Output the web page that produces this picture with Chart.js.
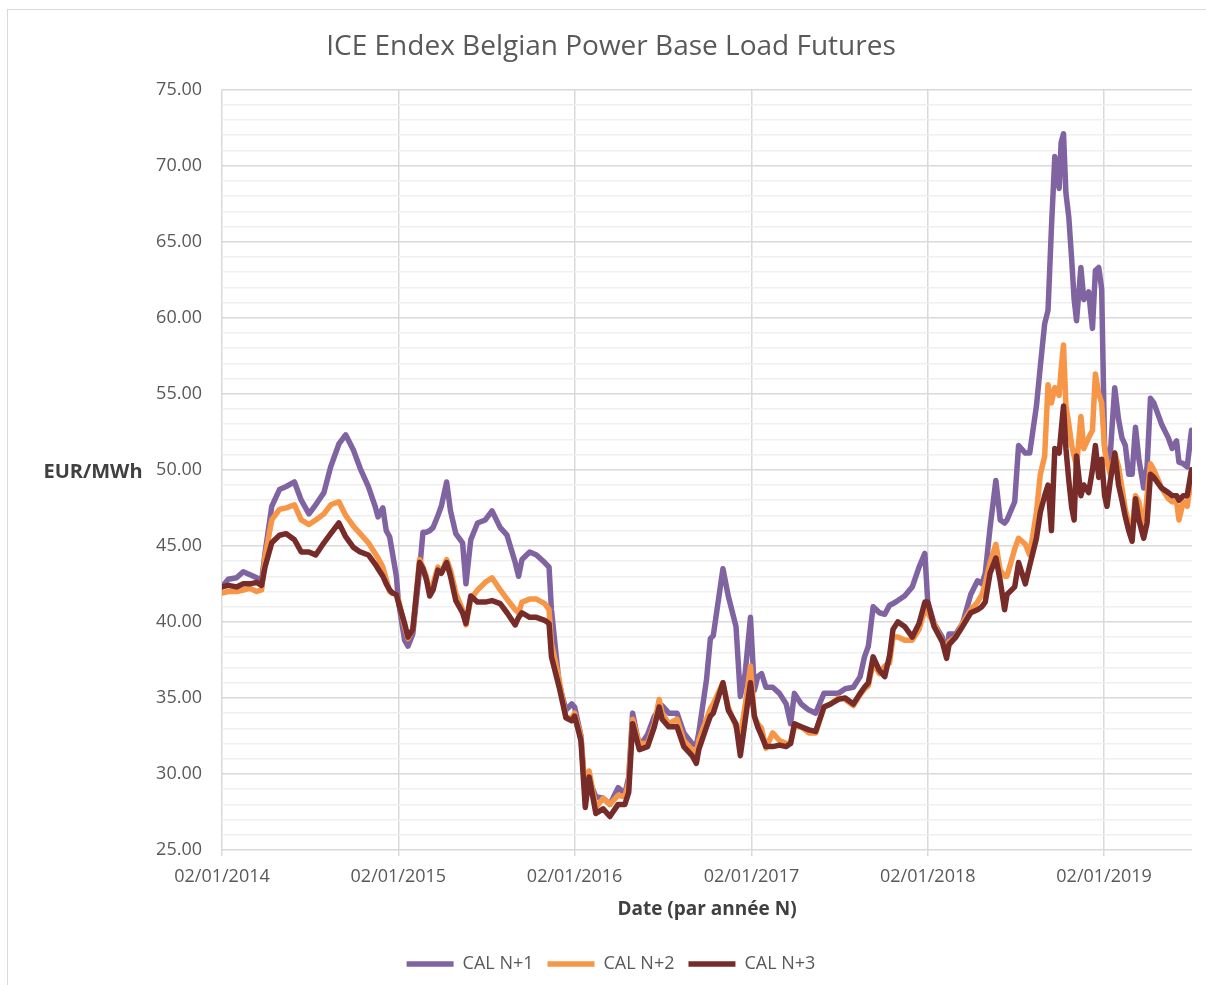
<!DOCTYPE html>
<html>
<head>
<meta charset="utf-8">
<script src="https://cdn.jsdelivr.net/npm/chart.js@4.4.1/dist/chart.umd.min.js"></script>
<style>
  html, body { margin: 0; padding: 0; background: #ffffff; }
  #wrap { width: 1206px; height: 985px; position: relative; }
</style>
</head>
<body>
<div id="wrap"><canvas id="c" width="1206" height="985"></canvas></div>
<script>
const chartTitle = 'ICE Endex Belgian Power Base Load Futures';
const yAxisTitle = 'EUR/MWh';
const xAxisTitle = 'Date (par année N)';
const seriesNames = ['CAL N+1', 'CAL N+2', 'CAL N+3'];

const dates = [
  '2014-01-02','2014-01-15','2014-02-01','2014-02-15','2014-03-01','2014-03-15','2014-03-25','2014-04-01','2014-04-15','2014-05-01',
  '2014-05-15','2014-06-01','2014-06-15','2014-07-01','2014-07-15','2014-08-01','2014-08-15','2014-09-01','2014-09-15','2014-10-01',
  '2014-10-15','2014-11-01','2014-11-15','2014-11-21','2014-12-01','2014-12-08','2014-12-15','2014-12-21','2014-12-29',
  '2015-01-02','2015-01-15','2015-01-22','2015-02-01','2015-02-15','2015-02-22','2015-03-01','2015-03-08','2015-03-15','2015-03-25',
  '2015-04-01','2015-04-12','2015-04-20','2015-05-01','2015-05-15','2015-05-22','2015-06-01','2015-06-15','2015-07-01','2015-07-15',
  '2015-08-01','2015-08-15','2015-09-01','2015-09-08','2015-09-15','2015-10-01','2015-10-15','2015-11-01','2015-11-10','2015-11-15',
  '2015-12-01','2015-12-15','2015-12-27',
  '2016-01-02','2016-01-15','2016-01-24','2016-02-01','2016-02-15','2016-03-01','2016-03-15','2016-04-01','2016-04-15','2016-04-23',
  '2016-05-01','2016-05-15','2016-06-01','2016-06-15','2016-06-25','2016-07-01','2016-07-15','2016-08-01','2016-08-15','2016-09-01',
  '2016-09-10','2016-09-15','2016-10-01','2016-10-09','2016-10-15','2016-11-04','2016-11-15','2016-12-01','2016-12-10','2016-12-20',
  '2016-12-31',
  '2017-01-08','2017-01-15','2017-01-23','2017-02-01','2017-02-15','2017-03-01','2017-03-15','2017-03-24','2017-04-01','2017-04-15',
  '2017-05-01','2017-05-15','2017-06-01','2017-06-15','2017-07-01','2017-07-15','2017-08-01','2017-08-15','2017-08-24','2017-09-01',
  '2017-09-11','2017-09-24','2017-10-05','2017-10-15','2017-10-22','2017-11-01','2017-11-15','2017-12-01','2017-12-15','2017-12-27',
  '2018-01-02','2018-01-15','2018-02-01','2018-02-10','2018-02-15','2018-03-01','2018-03-15','2018-04-01','2018-04-15','2018-04-24',
  '2018-05-01','2018-05-11','2018-05-23','2018-06-01','2018-06-10','2018-06-15','2018-07-01','2018-07-09','2018-07-23','2018-08-01',
  '2018-08-15','2018-08-23','2018-09-01','2018-09-08','2018-09-15','2018-09-22','2018-10-01','2018-10-05','2018-10-10','2018-10-15',
  '2018-10-21','2018-10-27','2018-11-01','2018-11-06','2018-11-15','2018-11-21','2018-12-01','2018-12-09','2018-12-15','2018-12-22',
  '2018-12-28',
  '2019-01-03','2019-01-08','2019-01-15','2019-01-24','2019-02-01','2019-02-08','2019-02-15','2019-02-22','2019-03-01','2019-03-08',
  '2019-03-15','2019-03-25','2019-04-01','2019-04-08','2019-04-15','2019-05-01','2019-05-15','2019-05-23','2019-06-01','2019-06-06',
  '2019-06-15','2019-06-23','2019-07-02'
];

const calN1 = [
  42.3,42.8,42.9,43.3,43.1,42.9,42.7,44.5,47.6,48.7,
  48.9,49.2,48.0,47.1,47.7,48.5,50.2,51.7,52.3,51.3,
  50.1,48.9,47.6,46.9,47.5,46.0,45.6,44.5,43.0,
  41.4,38.8,38.4,39.2,43.4,45.9,45.9,46.0,46.2,47.0,
  47.6,49.2,47.3,45.8,45.2,42.5,45.4,46.5,46.7,47.3,
  46.2,45.7,43.9,43.0,44.1,44.6,44.4,43.9,43.6,40.8,
  35.9,34.2,34.6,
  34.4,32.5,28.5,29.6,28.5,28.4,28.0,29.1,28.7,29.8,
  34.0,31.8,32.6,33.8,34.2,34.5,34.0,34.0,32.7,32.0,
  31.9,32.7,36.2,38.9,39.1,43.5,41.7,39.7,35.1,36.6,
  40.3,
  35.5,36.4,36.6,35.7,35.7,35.3,34.6,33.3,35.3,34.6,
  34.2,34.0,35.3,35.3,35.3,35.6,35.7,36.4,37.7,38.4,
  41.0,40.6,40.5,41.1,41.2,41.4,41.7,42.3,43.6,44.5,
  41.3,39.9,39.0,37.8,39.2,39.2,39.9,41.8,42.7,42.5,
  43.2,46.2,49.3,46.7,46.5,46.7,47.9,51.6,51.1,51.1,
  54.2,56.8,59.6,60.5,65.9,70.6,68.5,71.5,72.1,68.2,
  66.6,63.8,61.2,59.8,63.3,61.2,61.7,59.3,63.1,63.3,
  61.9,
  51.6,50.5,51.1,55.4,53.3,52.1,51.6,49.7,49.7,52.8,
  50.7,48.8,50.2,54.7,54.4,53.0,52.1,51.4,51.9,50.5,
  50.4,50.2,52.6
];

const calN2 = [
  41.9,42.0,42.0,42.1,42.2,42.0,42.1,44.3,46.7,47.4,
  47.5,47.7,46.7,46.4,46.7,47.1,47.7,47.9,47.0,46.3,
  45.8,45.2,44.5,44.2,43.6,42.8,42.0,41.9,41.8,
  41.5,39.7,38.9,39.5,44.1,43.6,43.0,41.9,42.5,43.6,
  43.2,44.1,43.4,41.9,40.8,39.8,41.5,42.1,42.6,42.9,
  42.1,41.5,40.8,40.6,41.3,41.5,41.5,41.2,40.8,38.6,
  36.2,33.7,33.7,
  34.0,32.5,28.9,30.2,27.8,28.4,28.0,28.6,28.5,29.5,
  33.6,32.0,32.0,33.3,34.9,34.0,33.3,33.6,32.2,31.6,
  31.4,32.2,33.6,34.3,34.6,36.0,34.4,33.1,32.5,34.5,
  37.1,
  33.8,33.3,33.0,31.7,32.7,32.2,32.0,32.0,33.1,33.1,
  32.7,32.7,34.4,34.6,35.0,34.9,34.5,35.2,35.6,35.8,
  37.3,36.6,37.1,37.3,39.0,39.0,38.8,38.8,39.5,40.8,
  40.6,39.9,38.7,38.0,38.7,39.0,39.9,40.8,41.3,41.8,
  42.5,43.9,45.1,43.4,43.0,43.0,44.8,45.5,45.1,44.4,
  47.2,49.7,50.9,55.6,54.4,55.4,54.9,56.6,58.2,54.2,
  53.0,51.6,50.9,50.2,53.5,51.4,52.1,52.6,56.3,55.0,
  54.4,
  51.4,50.5,49.7,51.1,50.2,48.8,47.4,46.5,46.0,48.3,
  47.9,46.0,48.3,50.4,50.0,48.8,48.1,47.9,47.9,46.7,
  47.9,47.6,49.5
];

const calN3 = [
  42.3,42.4,42.3,42.5,42.5,42.6,42.4,43.6,45.2,45.7,
  45.8,45.4,44.6,44.6,44.4,45.2,45.8,46.5,45.6,44.9,
  44.6,44.4,43.8,43.5,43.0,42.5,42.1,41.9,41.8,
  41.3,39.9,39.0,39.5,43.9,43.5,42.8,41.7,42.1,43.4,
  43.2,43.9,43.0,41.4,40.6,39.9,41.7,41.3,41.3,41.4,
  41.2,40.6,39.8,40.3,40.6,40.3,40.3,40.1,39.9,37.7,
  35.7,33.7,33.5,
  33.8,32.2,27.8,29.8,27.4,27.7,27.2,28.0,28.0,28.8,
  33.3,31.6,31.8,33.1,34.4,33.6,33.1,33.1,31.8,31.2,
  30.7,31.6,33.1,33.8,34.0,36.0,34.2,33.3,31.2,33.5,
  36.0,
  33.8,33.1,32.5,31.8,31.8,31.9,31.8,32.0,33.3,33.1,
  32.9,32.8,34.4,34.6,34.9,35.0,34.6,35.3,35.7,36.0,
  37.7,36.8,36.4,37.8,39.5,40.0,39.7,39.0,39.9,41.3,
  41.3,39.7,38.7,37.6,38.5,39.0,39.7,40.6,40.8,41.0,
  41.3,43.2,44.2,42.7,40.8,41.8,42.3,43.9,42.5,43.7,
  45.5,47.2,48.3,49.0,46.0,51.4,51.1,52.5,54.2,51.4,
  49.3,47.5,46.7,50.9,48.3,49.0,48.5,50.0,51.6,49.5,
  50.7,
  48.3,47.6,49.3,51.1,49.0,48.0,46.9,46.0,45.3,48.1,
  46.7,45.5,46.5,49.7,49.5,48.8,48.5,48.3,48.3,48.0,
  48.3,48.3,50.0
];

const xTickDates = ['2014-01-02','2015-01-02','2016-01-02','2017-01-02','2018-01-02','2019-01-02'];
const xTickLabels = ['02/01/2014','02/01/2015','02/01/2016','02/01/2017','02/01/2018','02/01/2019'];
const xMinDate = '2014-01-02';
const xMaxDate = '2019-07-03';
const yMin = 25, yMax = 75, yMajorStep = 5;

function dayNum(s) { return Date.parse(s + 'T00:00:00Z') / 86400000; }
function toPoints(values) { return values.map((v, i) => ({ x: dayNum(dates[i]), y: v })); }

const FONT = "'Open Sans', 'DejaVu Sans', sans-serif";
const colors = ['#8064A2', '#F79646', '#772C2A'];

const frameAndYTitle = {
  id: 'frameAndYTitle',
  beforeDraw(chart) {
    const ctx = chart.ctx;
    ctx.save();
    ctx.fillStyle = '#ffffff';
    ctx.fillRect(0, 0, chart.width, chart.height);
    ctx.strokeStyle = '#d9d9d9';
    ctx.lineWidth = 1;
    ctx.strokeRect(7.5, 9.5, 1400, 1400);
    ctx.restore();
  },
  afterDraw(chart) {
    const ctx = chart.ctx;
    ctx.save();
    ctx.font = "bold 20px " + FONT;
    ctx.fillStyle = '#404040';
    ctx.textAlign = 'center';
    ctx.textBaseline = 'middle';
    ctx.fillText(yAxisTitle, 93, 472);
    ctx.restore();
  }
};

new Chart(document.getElementById('c'), {
  type: 'line',
  data: {
    datasets: [0, 1, 2].map(i => ({
      label: seriesNames[i],
      data: toPoints([calN1, calN2, calN3][i]),
      borderColor: colors[i],
      backgroundColor: colors[i],
      borderWidth: 5.5,
      borderCapStyle: 'round',
      borderJoinStyle: 'round',
      pointRadius: 0,
      tension: 0,
      order: 3 - i
    }))
  },
  options: {
    responsive: false,
    devicePixelRatio: 1,
    animation: false,
    layout: { padding: { left: 30, right: 14, top: 2, bottom: 2 } },
    plugins: {
      tooltip: { enabled: false },
      title: {
        display: true,
        text: chartTitle,
        color: '#595959',
        font: { family: FONT, size: 28, weight: 'normal' },
        padding: { top: 28, bottom: 26 }
      },
      legend: {
        position: 'bottom',
        labels: {
          usePointStyle: true,
          pointStyle: 'line',
          pointStyleWidth: 47,
          color: '#595959',
          font: { family: FONT, size: 18 },
          padding: 14,
          sort: (a, b) => a.datasetIndex - b.datasetIndex
        }
      }
    },
    scales: {
      x: {
        type: 'linear',
        min: dayNum(xMinDate),
        max: dayNum(xMaxDate),
        afterBuildTicks(scale) { scale.ticks = xTickDates.map(d => ({ value: dayNum(d) })); },
        afterFit(scale) { scale.height = 91; },
        ticks: {
          autoSkip: false,
          maxRotation: 0,
          padding: 10,
          color: '#595959',
          font: { family: FONT, size: 18 },
          callback(value) {
            const idx = xTickDates.findIndex(d => dayNum(d) === value);
            return idx >= 0 ? xTickLabels[idx] : '';
          }
        },
        grid: { color: '#d9d9d9', lineWidth: 1.5, drawTicks: true, tickLength: 6 },
        border: { display: false },
        title: {
          display: true,
          text: xAxisTitle,
          color: '#404040',
          font: { family: FONT, size: 19, weight: 'bold' },
          padding: { top: 0, bottom: 20 }
        }
      },
      y: {
        min: yMin,
        max: yMax,
        afterFit(scale) { scale.width = 192; },
        ticks: {
          stepSize: 1,
          autoSkip: false,
          padding: 20,
          color: '#595959',
          font: { family: FONT, size: 18 },
          callback(value) { return value % yMajorStep === 0 ? value.toFixed(2) : ''; }
        },
        grid: {
          drawTicks: false,
          color: c => (c.tick && c.tick.value % yMajorStep === 0) ? '#d9d9d9' : '#efefef',
          lineWidth: 1.5
        },
        border: { display: false }
      }
    }
  },
  plugins: [frameAndYTitle]
});
</script>
</body>
</html>
